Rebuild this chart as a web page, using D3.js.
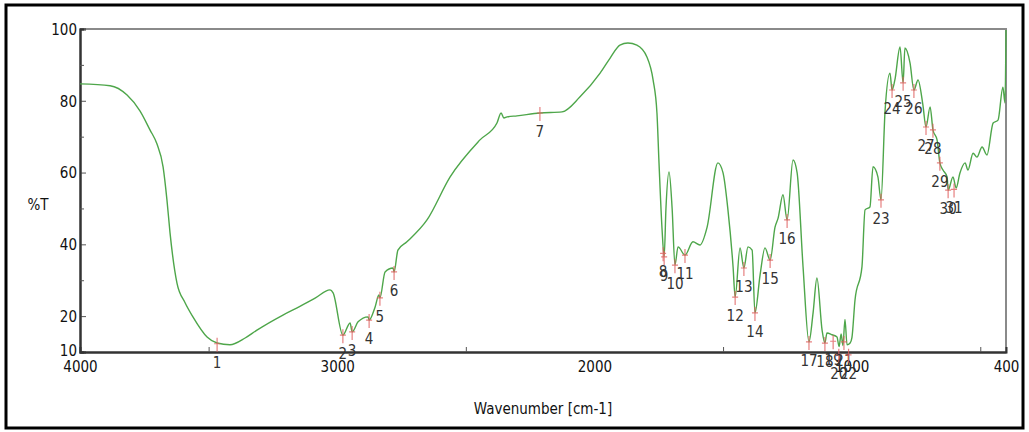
<!DOCTYPE html>
<html>
<head>
<meta charset="utf-8">
<script src="https://cdn.jsdelivr.net/npm/d3@7"></script>
<style>
  body { margin: 0; background: #fff; }
  text { font-family: "Liberation Sans Narrow", "Arial Narrow", "DejaVu Sans Condensed", sans-serif; }
</style>
</head>
<body>
<div id="chart"></div>
<script>
// Spectrum (wavenumber cm-1, %T)
var wavenumbers = [4000, 3883, 3817, 3767, 3728, 3701, 3677, 3662, 3650, 3623, 3592, 3561, 3506, 3467, 3417,
  3358, 3312, 3211, 3145, 3086, 3028, 3016, 2978, 2950, 2942, 2919, 2880, 2876, 2853, 2838, 2834, 2814,
  2783, 2779, 2764, 2729, 2651, 2561, 2445, 2379, 2363, 2352, 2340, 2301, 2212, 2126, 2056, 1978, 1939,
  1901, 1870, 1835, 1796, 1772, 1757, 1749, 1737, 1729, 1722, 1710, 1698, 1687, 1675, 1648, 1617, 1590,
  1562, 1520, 1500, 1481, 1461, 1453, 1434, 1419, 1403, 1387, 1376, 1356, 1337, 1317, 1298, 1286, 1267,
  1251, 1228, 1212, 1189, 1166, 1150, 1135, 1115, 1104, 1096, 1076, 1057, 1049, 1041, 1034, 1026, 1018,
  1006, 999, 987, 960, 948, 929, 917, 898, 886, 870, 851, 843, 832, 812, 800, 793, 773, 758, 742, 723,
  711, 695, 684, 668, 657, 645, 629, 625, 606, 594, 579, 559, 548, 528, 513, 493, 474, 450, 431, 412,
  404, 400];
var transmittance = [84.7, 84.2, 81.6, 77.2, 71.9, 68.0, 61.6, 52.4, 43.2, 29.2, 23.8, 19.8, 14.2, 12.5, 12.0,
  13.9, 16.1, 20.3, 22.7, 25.0, 27.3, 26.5, 14.7, 18.1, 15.6, 18.4, 19.8, 18.9, 22.5, 25.9, 25.1, 32.3,
  33.4, 32.3, 38.4, 40.7, 46.8, 58.8, 69.1, 73.8, 76.6, 75.2, 75.5, 75.8, 76.6, 76.9, 81.1, 87.7, 91.9,
  95.5, 96.1, 95.5, 92.2, 85.8, 76.6, 62.7, 44.0, 36.5, 50.0, 60.2, 50.0, 34.2, 39.3, 37.0, 40.7, 39.8,
  44.8, 62.7, 59.9, 49.6, 33.7, 25.3, 39.0, 33.4, 39.3, 38.4, 20.9, 31.5, 39.0, 35.6, 44.8, 47.3, 53.8,
  46.8, 63.5, 59.9, 33.7, 12.8, 20.9, 30.6, 16.1, 12.5, 15.3, 14.8, 14.2, 11.5, 15.0, 11.8, 19.1, 12.0,
  12.5, 14.0, 24.5, 33.7, 49.6, 50.4, 61.6, 58.8, 52.4, 77.4, 87.7, 83.0, 85.8, 95.0, 85.0, 94.7, 90.5,
  83.0, 85.8, 78.8, 72.7, 78.3, 71.9, 69.1, 62.7, 60.7, 58.8, 55.1, 58.8, 55.7, 59.9, 62.7, 60.7, 65.4,
  64.3, 67.1, 64.9, 73.8, 74.6, 83.8, 79.4, 99.7];

// Picked peaks
var peakNumbers = [1, 2, 3, 4, 5, 6, 7, 8, 9, 10, 11, 12, 13, 14, 15, 16, 17, 18, 19, 20, 21, 22, 23, 24, 25, 26, 27, 28, 29, 30, 31];
var peakWavenumbers = [3467, 2978, 2942, 2876, 2834, 2779, 2212, 1733, 1729, 1687, 1648, 1453, 1419, 1376, 1317, 1251,
  1166, 1104, 1072, 1050, 1030, 1012, 886, 843, 800, 758, 711, 684, 657, 625, 602];
var peakValues = [12.3, 14.7, 15.6, 18.9, 25.1, 32.3, 76.6, 37.5, 36.5, 34.2, 37.0, 25.3, 33.4, 20.9, 35.6, 46.8,
  12.8, 12.5, 13.0, 9.2, 12.8, 9.2, 52.4, 83.0, 85.0, 83.0, 72.7, 71.9, 62.7, 55.1, 55.3];

// Axis ticks
var yTicks = [10, 20, 40, 60, 80, 100];
var yMinorTicks = [30, 50, 70, 90];
var xTicks = [4000, 3000, 2000, 1000, 400];
var xMinorTicks = [3500, 2500, 1500, 500];

var W = 1029, H = 432;
var margin = {top: 29, right: 23, bottom: 80, left: 80};
var width = W - margin.left - margin.right;
var height = H - margin.top - margin.bottom;

var svg = d3.select("#chart").append("svg")
    .attr("width", W)
    .attr("height", H);

// outer frame
svg.append("rect")
    .attr("x", 6).attr("y", 5)
    .attr("width", W - 12).attr("height", H - 9)
    .attr("fill", "none")
    .attr("stroke", "#000")
    .attr("stroke-width", 3);

var g = svg.append("g")
    .attr("transform", "translate(" + margin.left + "," + margin.top + ")");

var x = d3.scaleLinear().domain([4000, 400]).range([0, width]);
var y = d3.scaleLinear().domain([10, 100]).range([height, 0]);

// top and right frame lines
g.append("path")
    .attr("d", "M0,0H" + width + "V" + height)
    .attr("fill", "none")
    .attr("stroke", "#8a8a8a")
    .attr("stroke-width", 2);

// y axis
var yAxis = g.append("g")
    .call(d3.axisLeft(y).tickValues(yTicks).tickSize(-6).tickPadding(3).tickFormat(d3.format("d")));
g.append("g")
    .call(d3.axisLeft(y).tickValues(yMinorTicks).tickSize(-4).tickFormat(""));

// x axis
var xAxis = g.append("g")
    .attr("transform", "translate(0," + height + ")")
    .call(d3.axisBottom(x).tickValues(xTicks).tickSize(0).tickPadding(9).tickFormat(d3.format("d")));
g.append("g")
    .attr("transform", "translate(0," + height + ")")
    .call(d3.axisBottom(x).tickValues(xMinorTicks).tickSize(-5).tickFormat(""));

g.selectAll(".domain").attr("stroke", "#333").attr("stroke-width", 2);
g.selectAll(".tick line").attr("stroke", "#555");
g.selectAll(".tick text").attr("font-size", 15).attr("fill", "#111")
    .attr("font-family", '"Liberation Sans Narrow", "Arial Narrow", "DejaVu Sans Condensed", sans-serif');
yAxis.selectAll(".tick text").attr("dy", "0.35em");
// the 10 label sits a bit lower like in the original
yAxis.selectAll(".tick text").filter(function(d) { return d === 10; }).attr("dy", "0.2em");

// axis titles
svg.append("text")
    .attr("x", 38).attr("y", 210)
    .attr("text-anchor", "middle")
    .attr("font-size", 15)
    .attr("fill", "#111")
    .text("%T");

svg.append("text")
    .attr("x", margin.left + width / 2).attr("y", 414)
    .attr("text-anchor", "middle")
    .attr("font-size", 15)
    .attr("fill", "#111")
    .text("Wavenumber [cm-1]");

// spectrum
var spectrum = wavenumbers.map(function(w, i) { return [w, transmittance[i]]; });

var line = d3.line()
    .x(function(d) { return x(d[0]); })
    .y(function(d) { return y(d[1]); })
    .curve(d3.curveMonotoneX);

g.append("path")
    .datum(spectrum)
    .attr("fill", "none")
    .attr("stroke", "#4ea64a")
    .attr("stroke-width", 1.4)
    .attr("d", line);

// peak markers
var peaks = peakNumbers.map(function(n, i) {
    return {n: n, w: peakWavenumbers[i], t: peakValues[i]};
});

var marks = g.append("g").selectAll("g")
    .data(peaks)
    .enter()
    .append("g")
    .attr("transform", function(d) { return "translate(" + x(d.w) + "," + y(d.t) + ")"; });

marks.append("path")
    .attr("d", "M0,-6V8M-3,0H3")
    .attr("stroke", "#e06060")
    .attr("stroke-opacity", 0.8)
    .attr("stroke-width", 1.2);

marks.append("text")
    .attr("y", 24)
    .attr("text-anchor", "middle")
    .attr("font-size", 15)
    .attr("fill", "#333")
    .text(function(d) { return d.n; });
</script>
</body>
</html>
